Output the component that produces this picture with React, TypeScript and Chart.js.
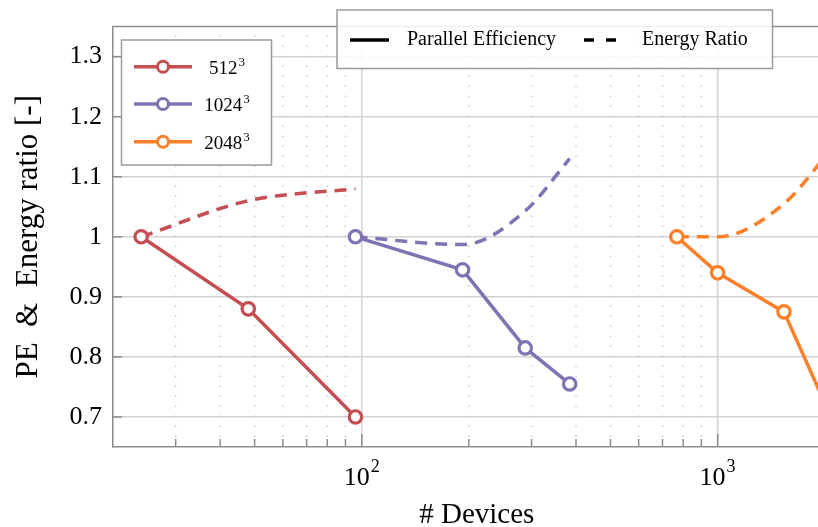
import { useEffect, useRef } from 'react';
import { Chart, registerables } from 'chart.js';

Chart.register(...registerables);

// Measured scaling runs, one group per grid size
const devices512 = [24, 48, 96];
const efficiency512 = [1.0, 0.88, 0.7];
const energy512 = [1.0, 1.06, 1.08];

const devices1024 = [96, 192, 288, 384];
const efficiency1024 = [1.0, 0.945, 0.815, 0.755];
const energy1024 = [1.0, 0.987, 1.043, 1.13];

const devices2048 = [768, 1000, 1536, 2048];
const efficiency2048 = [1.0, 0.94, 0.875, 0.71];
const energy2048 = [1.0, 1.0, 1.055, 1.14];

// grid sizes: base and exponent
const seriesBases = ['512', '1024', '2048'];
const seriesExponent = '3';
const seriesColors = ['#c44e52', '#8172b3', '#fd7f28'];
const styleLabels = ['Parallel Efficiency', 'Energy Ratio'];

const yTicks = [0.7, 0.8, 0.9, 1.0, 1.1, 1.2, 1.3];
const yTickLabels = ['0.7', '0.8', '0.9', '1', '1.1', '1.2', '1.3'];
const xMajorTicks = [100, 1000];
const xMajorExponents = ['2', '3'];
const xMinorTicks = [30, 40, 50, 60, 70, 80, 90, 200, 300, 400, 500, 600, 700, 800, 900, 2000];

const X_MIN = 20;
const X_MAX = 2216;
const Y_MIN = 0.65;
const Y_MAX = 1.35;

const FONT = "'Liberation Serif', 'Times New Roman', serif";
const W = 850;
const H = 530;
const AREA = { left: 113, top: 22, right: 841, bottom: 447 };
const GRID = '#d2d2d2';
const MINOR = '#c4c4c4';
const AXIS = '#8c8c8c';
const TICK = '#8c8c8c';
const DASH = [12, 8];

const points = (xs: number[], ys: number[]) => xs.map((x, i) => ({ x, y: ys[i] }));

// text with a raised exponent, centred (or left-aligned) on x
function drawPower(
  ctx: CanvasRenderingContext2D,
  base: string,
  exp: string,
  x: number,
  baseline: number,
  size: number,
  expSize: number,
  raise: number,
  align: 'center' | 'left'
) {
  ctx.textAlign = 'left';
  ctx.textBaseline = 'alphabetic';
  ctx.font = `${size}px ${FONT}`;
  const wb = ctx.measureText(base).width;
  ctx.font = `${expSize}px ${FONT}`;
  const we = ctx.measureText(exp).width;
  const start = align === 'center' ? x - (wb + we + 1) / 2 : x;
  ctx.font = `${size}px ${FONT}`;
  ctx.fillText(base, start, baseline);
  ctx.font = `${expSize}px ${FONT}`;
  ctx.fillText(exp, start + wb + 1, baseline - raise);
}

const framePlugin = {
  id: 'frame',
  beforeDatasetsDraw(chart: any) {
    const { ctx, chartArea: a, scales } = chart;
    const x = scales.x;
    const y = scales.y;
    ctx.save();
    // dotted minor verticals
    ctx.strokeStyle = MINOR;
    ctx.lineWidth = 1.3;
    ctx.setLineDash([1.5, 8.5]);
    for (const v of xMinorTicks) {
      const px = x.getPixelForValue(v);
      ctx.beginPath();
      ctx.moveTo(px, a.bottom);
      ctx.lineTo(px, a.top);
      ctx.stroke();
    }
    ctx.setLineDash([]);
    // top frame line
    ctx.strokeStyle = AXIS;
    ctx.lineWidth = 1.5;
    ctx.beginPath();
    ctx.moveTo(a.left, a.top);
    ctx.lineTo(a.right, a.top);
    ctx.stroke();
    // inward tick marks
    ctx.strokeStyle = TICK;
    for (const v of xMinorTicks) {
      const px = x.getPixelForValue(v);
      ctx.beginPath();
      ctx.moveTo(px, a.bottom);
      ctx.lineTo(px, a.bottom - 8);
      ctx.stroke();
    }
    for (const v of xMajorTicks) {
      const px = x.getPixelForValue(v);
      ctx.beginPath();
      ctx.moveTo(px, a.bottom);
      ctx.lineTo(px, a.bottom - 13);
      ctx.stroke();
    }
    for (const v of yTicks) {
      const py = y.getPixelForValue(v);
      ctx.beginPath();
      ctx.moveTo(a.left, py);
      ctx.lineTo(a.left + 9, py);
      ctx.stroke();
    }
    // decade labels 10^n under the axis
    ctx.fillStyle = '#000000';
    xMajorTicks.forEach((v, i) => {
      drawPower(ctx, '10', xMajorExponents[i], x.getPixelForValue(v), a.bottom + 38, 26, 18, 13, 'center');
    });
    ctx.restore();
  },
  afterDraw(chart: any) {
    const { ctx } = chart;
    ctx.save();

    // grid-size legend
    const bx = 121.5;
    const by = 40;
    ctx.fillStyle = '#ffffff';
    ctx.fillRect(bx, by, 150, 125);
    ctx.strokeStyle = '#9a9a9a';
    ctx.lineWidth = 1.5;
    ctx.strokeRect(bx, by, 150, 125);
    const rows = [66.7, 104, 141.7];
    seriesBases.forEach((base, i) => {
      const ry = rows[i];
      ctx.strokeStyle = seriesColors[i];
      ctx.lineWidth = 3.5;
      ctx.beginPath();
      ctx.moveTo(134, ry);
      ctx.lineTo(192, ry);
      ctx.stroke();
      ctx.fillStyle = '#ffffff';
      ctx.lineWidth = 3;
      ctx.beginPath();
      ctx.arc(163, ry, 5.5, 0, Math.PI * 2);
      ctx.fill();
      ctx.stroke();
      ctx.fillStyle = '#000000';
      drawPower(ctx, base, seriesExponent, 227, ry + 6.8, 19, 13, 8, 'center');
    });

    // line-style legend
    ctx.fillStyle = 'rgba(255,255,255,0.88)';
    ctx.fillRect(337, 10, 435.5, 58.5);
    ctx.strokeStyle = '#9a9a9a';
    ctx.lineWidth = 1.5;
    ctx.strokeRect(337, 10, 435.5, 58.5);
    ctx.strokeStyle = '#000000';
    ctx.lineWidth = 3.5;
    ctx.beginPath();
    ctx.moveTo(350, 40);
    ctx.lineTo(389, 40);
    ctx.stroke();
    ctx.setLineDash([10, 12]);
    ctx.beginPath();
    ctx.moveTo(584, 40);
    ctx.lineTo(616, 40);
    ctx.stroke();
    ctx.setLineDash([]);
    ctx.fillStyle = '#000000';
    ctx.font = `20px ${FONT}`;
    ctx.textAlign = 'left';
    ctx.textBaseline = 'alphabetic';
    ctx.fillText(styleLabels[0], 407, 44.5);
    ctx.fillText(styleLabels[1], 642, 44.5);

    ctx.restore();
  },
};

export default function App() {
  const canvasRef = useRef<HTMLCanvasElement | null>(null);

  useEffect(() => {
    if (!canvasRef.current) return;
    const efficiency = [
      points(devices512, efficiency512),
      points(devices1024, efficiency1024),
      points(devices2048, efficiency2048),
    ];
    const energy = [
      points(devices512, energy512),
      points(devices1024, energy1024),
      points(devices2048, energy2048),
    ];
    const datasets: any[] = [];
    efficiency.forEach((data, i) => {
      datasets.push({
        label: `${seriesBases[i]}^${seriesExponent} ${styleLabels[0]}`,
        data,
        borderColor: seriesColors[i],
        borderWidth: 3.5,
        pointRadius: 6.2,
        pointBorderWidth: 3.2,
        pointBackgroundColor: '#ffffff',
        pointBorderColor: seriesColors[i],
        tension: 0,
        fill: false,
        order: 0,
      });
    });
    energy.forEach((data, i) => {
      datasets.push({
        label: `${seriesBases[i]}^${seriesExponent} ${styleLabels[1]}`,
        data,
        borderColor: seriesColors[i],
        borderWidth: 3.5,
        borderDash: DASH,
        pointRadius: 0,
        cubicInterpolationMode: 'monotone',
        fill: false,
        order: 1,
      });
    });

    const chart = new Chart(canvasRef.current, {
      type: 'line',
      data: { datasets },
      options: {
        responsive: false,
        maintainAspectRatio: false,
        animation: false,
        layout: { padding: { left: 0, top: AREA.top, right: W - AREA.right, bottom: 0 } },
        plugins: { legend: { display: false }, tooltip: { enabled: false } },
        scales: {
          x: {
            type: 'logarithmic',
            min: X_MIN,
            max: X_MAX,
            afterBuildTicks: (s: any) => {
              s.ticks = [...xMinorTicks, ...xMajorTicks]
                .sort((p, q) => p - q)
                .map((v) => ({ value: v }));
            },
            afterFit: (s: any) => {
              s.height = H - AREA.bottom;
            },
            ticks: {
              autoSkip: false,
              maxRotation: 0,
              padding: 14,
              font: { family: FONT, size: 25 },
              callback: () => '',
            },
            grid: {
              drawTicks: false,
              lineWidth: 1.5,
              color: (c: any) =>
                c.tick && xMajorTicks.includes(c.tick.value) ? GRID : 'rgba(0,0,0,0)',
            },
            border: { color: AXIS, width: 1.5 },
            title: {
              display: true,
              text: '# Devices',
              color: '#000000',
              font: { family: FONT, size: 29, lineHeight: 1 },
              padding: 0,
            },
          },
          y: {
            min: Y_MIN,
            max: Y_MAX,
            afterBuildTicks: (s: any) => {
              s.ticks = yTicks.map((v) => ({ value: v }));
            },
            afterFit: (s: any) => {
              s.width = AREA.left;
            },
            ticks: {
              padding: 11,
              color: '#000000',
              font: { family: FONT, size: 26 },
              callback: (v: any) => {
                const i = yTicks.findIndex((t) => Math.abs(t - Number(v)) < 1e-9);
                return i >= 0 ? yTickLabels[i] : '';
              },
            },
            grid: { drawTicks: false, lineWidth: 1.5, color: GRID },
            border: { color: AXIS, width: 1.5 },
            title: {
              display: true,
              text: 'PE  &  Energy ratio [-]',
              color: '#000000',
              font: { family: FONT, size: 31 },
              padding: { top: 10, bottom: 0 },
            },
          },
        },
      } as any,
      plugins: [framePlugin],
    });
    return () => chart.destroy();
  }, []);

  return (
    <div
      style={{
        position: 'fixed',
        left: 0,
        top: 0,
        width: 818,
        height: 527,
        overflow: 'hidden',
        background: '#ffffff',
      }}
    >
      <canvas
        ref={canvasRef}
        width={W}
        height={H}
        style={{ width: W, height: H, display: 'block' }}
      />
    </div>
  );
}
